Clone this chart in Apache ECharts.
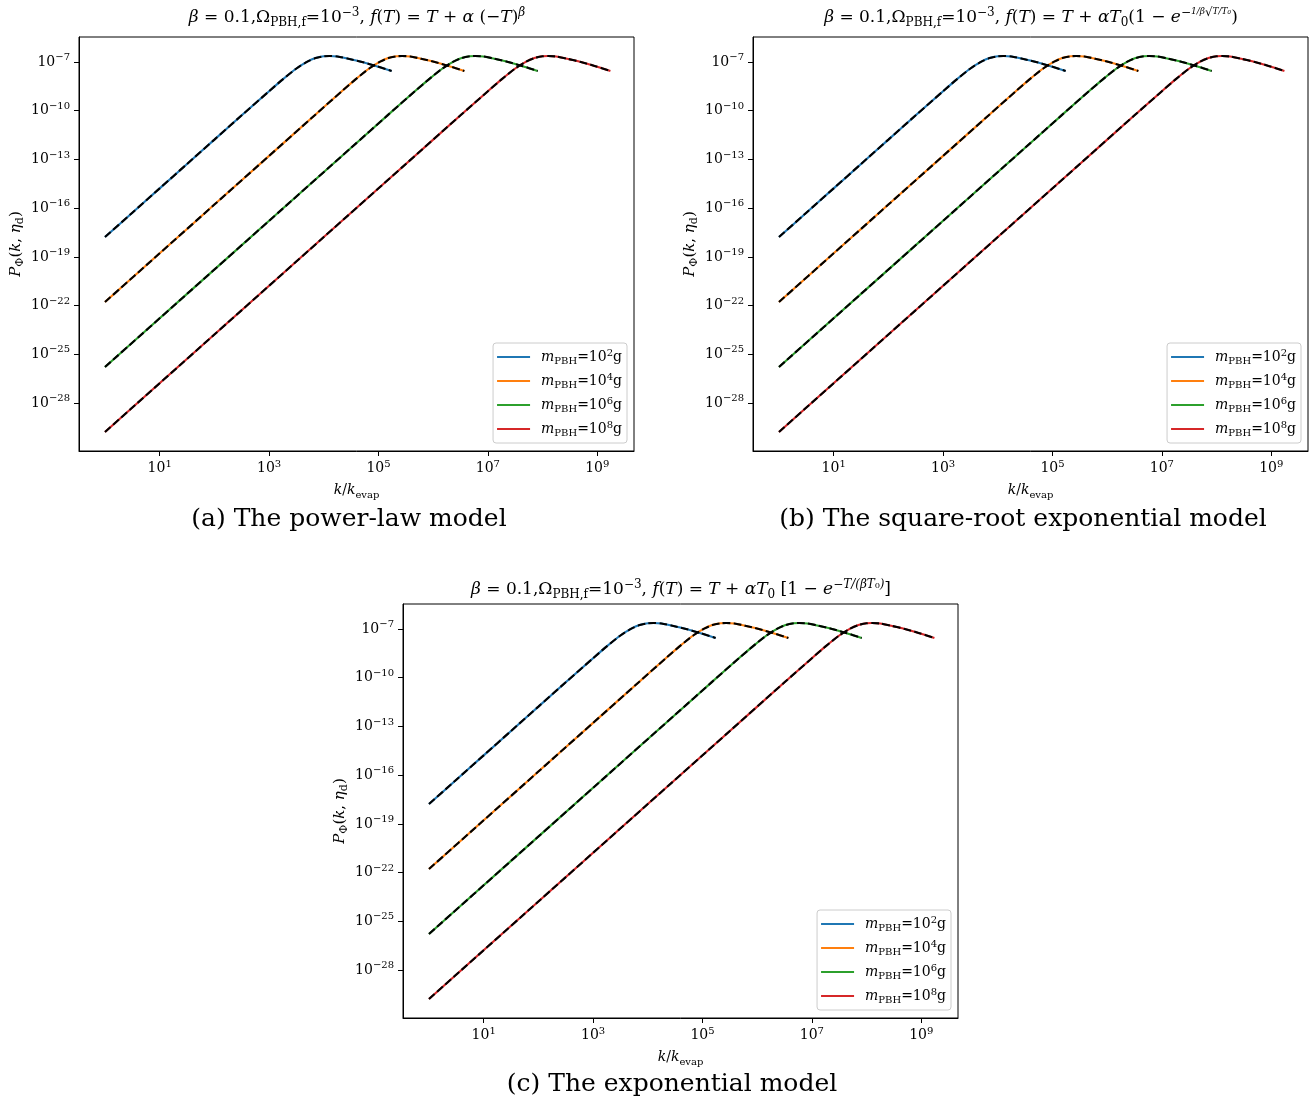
<!DOCTYPE html>
<html>
<head>
<meta charset="utf-8">
<script src="https://cdn.jsdelivr.net/npm/echarts@6/dist/echarts.min.js"></script>
<style>
  html, body { margin: 0; padding: 0; background: #fff; }
  #chart { width: 1311px; height: 1102px; }
</style>
</head>
<body>
<div id="chart"></div>
<script>
// Curvature power spectrum P_Phi(k, eta_d) versus k / k_evap.
// Values are stored as base-10 exponents: logK = log10(k/k_evap), logP = log10(P_Phi).
const logK_m2 = [0, 0.5, 1.0, 1.5, 2.0, 2.5, 3.0, 3.25, 3.5, 3.7, 3.85, 4.0, 4.1, 4.25, 4.45, 4.7, 4.95, 5.24];
const logP_m2 = [-17.78, -16.28, -14.78, -13.28, -11.78, -10.28, -8.80, -8.07, -7.40, -6.98, -6.76, -6.65, -6.63, -6.66, -6.80, -7.00, -7.24, -7.55];

const logK_m4 = [0, 1, 2, 3, 3.83, 4.33, 4.58, 4.83, 5.03, 5.18, 5.33, 5.43, 5.58, 5.78, 6.03, 6.28, 6.57];
const logP_m4 = [-21.78, -18.78, -15.78, -12.78, -10.29, -8.80, -8.07, -7.40, -6.98, -6.76, -6.65, -6.63, -6.66, -6.80, -7.00, -7.24, -7.55];

const logK_m6 = [0, 1.5, 3, 4.5, 5.17, 5.67, 5.92, 6.17, 6.37, 6.52, 6.67, 6.77, 6.92, 7.12, 7.37, 7.62, 7.91];
const logP_m6 = [-25.78, -21.28, -16.78, -12.28, -10.27, -8.79, -8.07, -7.40, -6.98, -6.76, -6.65, -6.63, -6.66, -6.80, -7.00, -7.24, -7.55];

const logK_m8 = [0, 2, 4, 5.5, 6.5, 7.0, 7.25, 7.5, 7.7, 7.85, 8.0, 8.1, 8.25, 8.45, 8.7, 8.95, 9.24];
const logP_m8 = [-29.78, -23.78, -17.78, -13.28, -10.28, -8.80, -8.07, -7.40, -6.98, -6.76, -6.65, -6.63, -6.66, -6.80, -7.00, -7.24, -7.55];

// PBH mass exponents (m_PBH = 10^n g)
const massExponents = [2, 4, 6, 8];

// Tick values
const xTicks = [1e1, 1e3, 1e5, 1e7, 1e9];
const yTicks = [1e-7, 1e-10, 1e-13, 1e-16, 1e-19, 1e-22, 1e-25, 1e-28];

// Axis extents as exponents
const xExtent = [-0.475, 9.671];
const yExtent = [-30.953, -5.461];

const curves = [
  { exp: massExponents[0], logK: logK_m2, logP: logP_m2 },
  { exp: massExponents[1], logK: logK_m4, logP: logP_m4 },
  { exp: massExponents[2], logK: logK_m6, logP: logP_m6 },
  { exp: massExponents[3], logK: logK_m8, logP: logP_m8 }
];

const colors = ['#1f77b4', '#ff7f0e', '#2ca02c', '#d62728'];
const SERIF = '"DejaVu Serif", "Liberation Serif", serif';

function richSet(size, lh) {
  const sub = Math.round(size * 0.7);
  const tiny = Math.round(size * 0.5);
  const line = lh || size + 5;
  return {
    r:    { fontSize: size, fontFamily: SERIF, color: '#000', lineHeight: line },
    i:    { fontSize: size, fontFamily: SERIF, fontStyle: 'italic', color: '#000', lineHeight: line },
    sup:  { fontSize: sub, fontFamily: SERIF, color: '#000', lineHeight: sub, verticalAlign: 'top' },
    supi: { fontSize: sub, fontFamily: SERIF, fontStyle: 'italic', color: '#000', lineHeight: sub, verticalAlign: 'top' },
    tiny: { fontSize: tiny, fontFamily: SERIF, fontStyle: 'italic', color: '#000', lineHeight: sub, verticalAlign: 'top' },
    sub:  { fontSize: sub, fontFamily: SERIF, color: '#000', lineHeight: sub, verticalAlign: 'bottom' },
    subi: { fontSize: sub, fontFamily: SERIF, fontStyle: 'italic', color: '#000', lineHeight: sub, verticalAlign: 'bottom' },
    sp:   { width: 6 }
  };
}
// zrender-style copy for graphic text elements
function richZr(size) {
  const src = richSet(size);
  const out = {};
  Object.keys(src).forEach(k => { out[k] = Object.assign({ fill: '#000' }, src[k]); });
  return out;
}

const head = '{i|β}{r| = 0.1,Ω}{sub|PBH,f}{r|=10}{sup|−3}{r|, }{i|f}{r|(}{i|T}{r|) = }{i|T}{r| + }';
const titles = [
  head + '{i|α}{r| (−}{i|T}{r|)}{supi|β}',
  head + '{i|αT}{sub|0}{r|(1 − }{i|e}{sup|−}{tiny|1/β}{sup|√}{tiny|T/T₀}{r|)}',
  head + '{i|αT}{sub|0}{r| [1 − }{i|e}{sup|−}{supi|T/(βT}{sup|₀}{supi|)}{r|]}'
];
const captions = [
  '(a) The power-law model',
  '(b) The square-root exponential model',
  '(c) The exponential model'
];

const panels = [
  { left: 79,  top: 37,  titleX: 357,  titleY: 18,  capX: 349,  capY: 519,  legRight: 684, legBottom: 659 },
  { left: 753, top: 37,  titleX: 1031, titleY: 18,  capX: 1023, capY: 519,  legRight: 10,  legBottom: 659 },
  { left: 403, top: 604, titleX: 681,  titleY: 590, capX: 672,  capY: 1084, legRight: 360, legBottom: 92 }
];
const PLOT_W = 555, PLOT_H = 414;

function powLabel(v) {
  const e = Math.round(Math.log10(v));
  return '{r|10}{sup|' + (e < 0 ? '−' + (-e) : String(e)) + '}';
}
function legendLabel(name) {
  const n = name.replace('m', '');
  return '{sp|}{i|m}{sub|PBH}{r|=10}{sup|' + n + '}{r|g}';
}

const tickRich = richSet(14);
const nameRich = richSet(14);

const grid = [], xAxis = [], yAxis = [], legend = [], series = [], graphic = [];
const legendNames = curves.map(c => 'm' + c.exp);

panels.forEach((p, pi) => {
  grid.push({
    left: p.left, top: p.top, width: PLOT_W, height: PLOT_H,
    show: true, borderColor: '#000', borderWidth: 1, backgroundColor: 'transparent',
    containLabel: false, outerBoundsMode: 'none'
  });
  xAxis.push({
    type: 'log', logBase: 10, gridIndex: pi,
    min: Math.pow(10, xExtent[0]), max: Math.pow(10, xExtent[1]),
    axisLine: { show: true, onZero: false, lineStyle: { color: '#000', width: 1 } },
    axisTick: { show: true, inside: false, length: 5, customValues: xTicks, lineStyle: { color: '#000', width: 1 } },
    minorTick: { show: false },
    splitLine: { show: false },
    axisLabel: { customValues: xTicks, formatter: powLabel, rich: tickRich, margin: 8 },
    name: '{i|k}{r|/}{i|k}{sub|evap}',
    nameLocation: 'middle', nameGap: 30,
    nameTextStyle: { rich: nameRich }
  });
  yAxis.push({
    type: 'log', logBase: 10, gridIndex: pi,
    min: Math.pow(10, yExtent[0]), max: Math.pow(10, yExtent[1]),
    axisLine: { show: true, onZero: false, lineStyle: { color: '#000', width: 1 } },
    axisTick: { show: true, inside: false, length: 5, customValues: yTicks, lineStyle: { color: '#000', width: 1 } },
    minorTick: { show: false },
    splitLine: { show: false },
    axisLabel: { customValues: yTicks, formatter: powLabel, rich: tickRich, margin: 9 },
    name: '{i|P}{sub|Φ}{r|(}{i|k}{r|, }{i|η}{sub|d}{r|)}',
    nameLocation: 'middle', nameRotate: 90, nameGap: 53,
    nameTextStyle: { rich: richSet(15) }
  });
  legend.push({
    data: legendNames,
    orient: 'vertical',
    right: p.legRight, bottom: p.legBottom,
    icon: 'rect', itemWidth: 33, itemHeight: 2, itemGap: 6,
    padding: [5, 5, 5, 4],
    backgroundColor: 'rgba(255,255,255,0.8)',
    borderColor: '#cccccc', borderWidth: 1, borderRadius: 3,
    selectedMode: false,
    formatter: legendLabel,
    textStyle: { rich: richSet(14, 18) }
  });

  curves.forEach((c, ci) => {
    series.push({
      type: 'line', name: 'm' + c.exp, xAxisIndex: pi, yAxisIndex: pi,
      data: c.logK.map((v, j) => [Math.pow(10, v), Math.pow(10, c.logP[j])]),
      symbol: 'none', showSymbol: false, smooth: 0.25, silent: true, z: 2,
      lineStyle: { color: colors[ci], width: 2.1 },
      itemStyle: { color: colors[ci] }
    });
  });
  curves.forEach((c) => {
    series.push({
      type: 'line', name: 'm' + c.exp + ' analytic', xAxisIndex: pi, yAxisIndex: pi,
      data: c.logK.map((v, j) => [Math.pow(10, v), Math.pow(10, c.logP[j])]),
      symbol: 'none', showSymbol: false, smooth: 0.25, silent: true, z: 3,
      lineStyle: { color: '#000', width: 2.1, type: [7.7, 3.3] },
      itemStyle: { color: '#000' }
    });
  });

  graphic.push({
    type: 'text', x: p.titleX, y: p.titleY, silent: true,
    style: { text: titles[pi], rich: richZr(17), align: 'center', verticalAlign: 'middle', fill: '#000' }
  });
  graphic.push({
    type: 'text', x: p.capX, y: p.capY, silent: true,
    style: { text: captions[pi], fontSize: 25, fontFamily: SERIF, align: 'center', verticalAlign: 'middle', fill: '#000' }
  });
});

const chart = echarts.init(document.getElementById('chart'), null, { renderer: 'canvas' });
chart.setOption({
  animation: false,
  backgroundColor: '#fff',
  grid, xAxis, yAxis, legend, series, graphic
});
</script>
</body>
</html>
